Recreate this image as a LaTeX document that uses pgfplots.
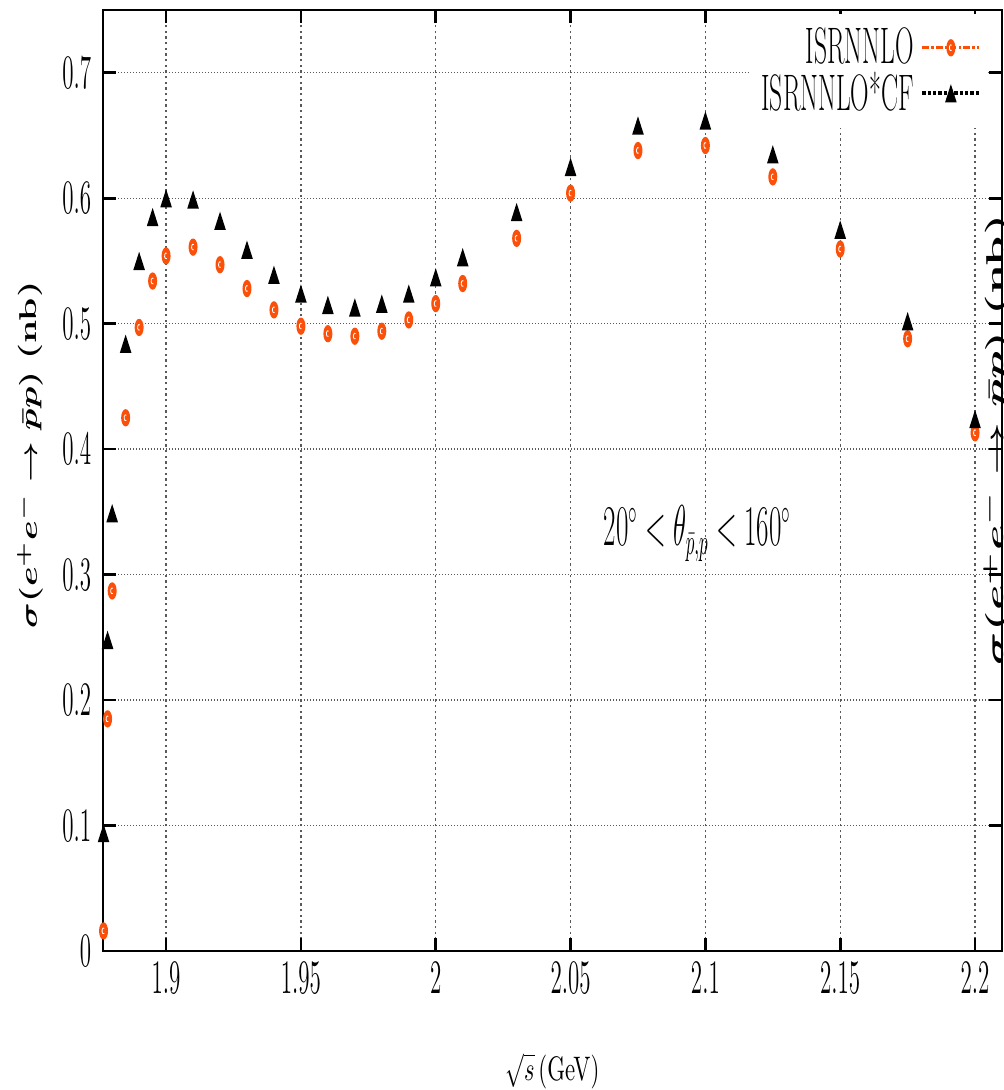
\documentclass[border=0pt]{standalone}
\usepackage{pgfplots}
\pgfplotsset{compat=1.18}
\usepackage{graphicx}
\definecolor{isr}{RGB}{250,80,10}
\definecolor{gridc}{RGB}{90,90,90}
\pgfdeclareplotmark{isr}{%
  \pgfpathellipse{\pgfpointorigin}{\pgfqpoint{1.35pt}{0pt}}{\pgfqpoint{0pt}{2.6pt}}%
  \pgfusepathqfill
  {\pgfscope\pgfsetstrokecolor{white}\pgfsetlinewidth{0.25pt}%
  \pgfpathmoveto{\pgfqpoint{0.22pt}{0.78pt}}%
  \pgfpatharc{60}{300}{0.45pt and 0.9pt}%
  \pgfusepathqstroke\endpgfscope}%
}
\pgfdeclareplotmark{tri}{%
  \pgfpathmoveto{\pgfqpoint{0pt}{2.75pt}}%
  \pgfpathlineto{\pgfqpoint{-1.75pt}{-2.75pt}}%
  \pgfpathlineto{\pgfqpoint{1.75pt}{-2.75pt}}%
  \pgfpathclose\pgfusepathqfill}

\pgfplotstableread{
x y
1.8768 0.016
1.8783 0.185
1.880 0.287
1.885 0.425
1.890 0.497
1.895 0.534
1.900 0.554
1.910 0.561
1.920 0.547
1.930 0.528
1.940 0.511
1.950 0.498
1.960 0.492
1.970 0.490
1.980 0.494
1.990 0.503
2.000 0.516
2.010 0.532
2.030 0.568
2.050 0.604
2.075 0.638
2.100 0.642
2.125 0.617
2.150 0.5595
2.175 0.488
2.200 0.413
}\isrnnlo
\pgfplotstableread{
x y
1.8768 0.094
1.8783 0.248
1.880 0.349
1.885 0.484
1.890 0.550
1.895 0.585
1.900 0.600
1.910 0.599
1.920 0.582
1.930 0.559
1.940 0.539
1.950 0.524
1.960 0.515
1.970 0.513
1.980 0.516
1.990 0.524
2.000 0.537
2.010 0.553
2.030 0.589
2.050 0.625
2.075 0.658
2.100 0.662
2.125 0.635
2.150 0.575
2.175 0.502
2.200 0.424
}\isrcf

\newcommand{\bigf}{\fontsize{15.4}{16}\selectfont}
\newcommand{\midf}{\fontsize{10.2}{12}\selectfont}
\newcommand{\ylab}{\boldmath$\sigma(e^+e^-\to\bar pp)$ \textbf{(nb)}}

\begin{document}
\begin{tikzpicture}
\begin{axis}[
  name=ax, at={(0,0)}, anchor=south west,
  scale only axis, width=269.7pt, height=282.3pt,
  xmin=1.8766, xmax=2.21, ymin=0, ymax=0.75,
  xtick={1.9,1.95,2,2.05,2.1,2.15,2.2},
  ytick={0,0.1,0.2,0.3,0.4,0.5,0.6,0.7},
  xticklabel={\scalebox{0.48}[1]{$\pgfmathprintnumber{\tick}$}},
  yticklabel={\scalebox{0.48}[1]{$\pgfmathprintnumber{\tick}$}},
  tick label style={font=\bigf},
  grid=major,
  x grid style={gridc, line width=0.4pt, dash pattern=on 0.7pt off 1pt},
  y grid style={gridc, line width=0.4pt, dash pattern=on 0.3pt off 0.6pt},
  tick align=inside, major tick length=4pt,
  tick style={black, line width=0.8pt},
  axis line style={line width=0.7pt},
  clip=false,
  legend plot pos=right, legend cell align=right,
  legend style={draw=none, fill=white, at={(axis description cs:1,1)}, anchor=north east,
    xshift=-4.2pt, yshift=-1pt, inner xsep=1.8pt, row sep=-3pt, font=\bigf},
]
\addplot[isr, only marks, mark=isr, forget plot] table[x=x,y=y] {\isrnnlo};
\addplot[black, only marks, mark=tri, forget plot] table[x=x,y=y] {\isrcf};
\addlegendimage{isr, line width=1pt, dash pattern=on 2pt off 0.7pt on 0.7pt off 0.7pt, mark=isr, mark options={solid}}
\addlegendentry{\scalebox{0.5}[1]{ISRNNLO}}
\addlegendimage{black, line width=1.2pt, dash pattern=on 1pt off 0.6pt, mark=tri, mark options={solid}}
\addlegendentry{\scalebox{0.5}[1]{ISRNNLO*CF}}
\node[anchor=base, font=\fontsize{16.3}{18}\selectfont] at (axis cs:2.097,0.323)
  {\scalebox{0.47}[1]{$20^\circ<\theta_{\bar p,p}<160^\circ$}};
\end{axis}
\node[anchor=base, font=\midf] at (134.85pt,-38.7pt) {\scalebox{0.67}[1]{$\sqrt{s}$\,(GeV)}};
\node[rotate=90, inner sep=0pt, font=\midf] at (-21.9pt,148.8pt) {\resizebox*{104pt}{7.8pt}{\ylab}};
\begin{scope}
\clip (260pt,0pt) rectangle (270.3pt,285.3pt);
\node[rotate=90, inner sep=0pt, font=\midf] at (268pt,153.3pt) {\resizebox*{135pt}{7.8pt}{\ylab}};
\end{scope}
\pgfresetboundingbox
\useasboundingbox (-30.9pt,-41.7pt) rectangle (270.3pt,285.3pt);
\end{tikzpicture}
\end{document}
